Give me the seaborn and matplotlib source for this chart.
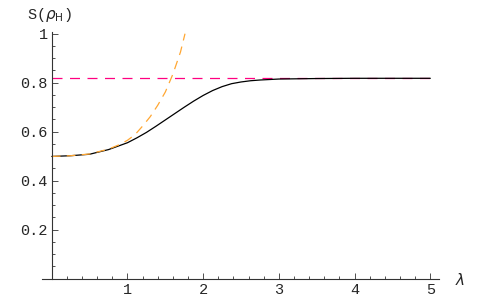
import numpy as np
import pandas as pd
import seaborn as sns
import matplotlib
matplotlib.use("Agg")
import matplotlib.pyplot as plt
from matplotlib.ticker import MultipleLocator, FixedLocator

# exact entropy curve
lam_exact = [0, 0.25, 0.5, 0.75, 1.0, 1.125, 1.25, 1.375, 1.5, 1.625, 1.75, 1.875, 2.0,
             2.125, 2.25, 2.375, 2.5, 2.625, 2.75, 3.0, 3.5, 4.0, 4.5, 5.0]
s_exact = [0.499, 0.502, 0.508, 0.527, 0.555, 0.575, 0.597, 0.622, 0.648, 0.674, 0.700, 0.725, 0.748,
           0.768, 0.784, 0.796, 0.803, 0.808, 0.811, 0.815, 0.817, 0.818, 0.818, 0.818]

# small-lambda expansion
lam_series = [0, 0.25, 0.5, 0.75, 0.9, 1.0, 1.1, 1.2, 1.3, 1.4, 1.5, 1.6, 1.7, 1.76]
s_series = [0.499, 0.502, 0.509, 0.529, 0.548, 0.565, 0.588, 0.623, 0.661, 0.708, 0.762, 0.835, 0.925, 1.0]

# asymptote
lam_asym = [0, 5]
s_asym = [0.818, 0.818]

x_ticks = [1, 2, 3, 4, 5]
y_ticks = [0.2, 0.4, 0.6, 0.8, 1.0]
y_ticklabels = ["0.2", "0.4", "0.6", "0.8", "1"]

sns.set_style("white")
plt.rcParams["font.family"] = ["Liberation Mono", "DejaVu Sans"]

fig = plt.figure(figsize=(4.85, 2.99), dpi=100)
ax = fig.add_axes([0.0864, 0.0679, 0.8196, 0.8251])

sns.lineplot(x=lam_asym, y=s_asym, ax=ax, color="#FF0080", lw=0.9, linestyle=(0, (8, 6)))
sns.lineplot(x=lam_exact, y=s_exact, ax=ax, color="black", lw=0.9)
sns.lineplot(x=lam_series, y=s_series, ax=ax, color="#FFA733", lw=0.9, linestyle=(0, (7, 5)))

ax.set_xlim(-0.13, 5.12)
ax.set_ylim(0, 1.007)

for s in ["top", "right"]:
    ax.spines[s].set_visible(False)
ax.spines["left"].set_position(("data", 0))
ax.spines["left"].set_bounds(0, 1.007)
for s in ["left", "bottom"]:
    ax.spines[s].set_color("#333333")
    ax.spines[s].set_linewidth(0.8)

ax.xaxis.set_major_locator(FixedLocator(x_ticks))
ax.xaxis.set_minor_locator(MultipleLocator(0.2))
ax.yaxis.set_major_locator(FixedLocator(y_ticks))
ax.yaxis.set_minor_locator(MultipleLocator(0.05))
ax.set_xticklabels([str(t) for t in x_ticks])
ax.set_yticklabels(y_ticklabels)

ax.tick_params(which="both", direction="in", color="#333333", width=0.6, labelsize=11, bottom=True, left=True)
ax.tick_params(which="major", length=4, pad=3)
ax.tick_params(which="minor", length=2)

ax.set_xlabel("")
ax.set_ylabel("")
ax.text(50 / 485, 1 - 15 / 299, r"S($\rho_{\mathrm{H}}$)", transform=fig.transFigure,
        ha="center", va="center", fontsize=11)
ax.text(460 / 485, 1 - 280 / 299, r"$\lambda$", transform=fig.transFigure,
        ha="center", va="center", fontsize=11)

fig.savefig("out.png", dpi=100)
